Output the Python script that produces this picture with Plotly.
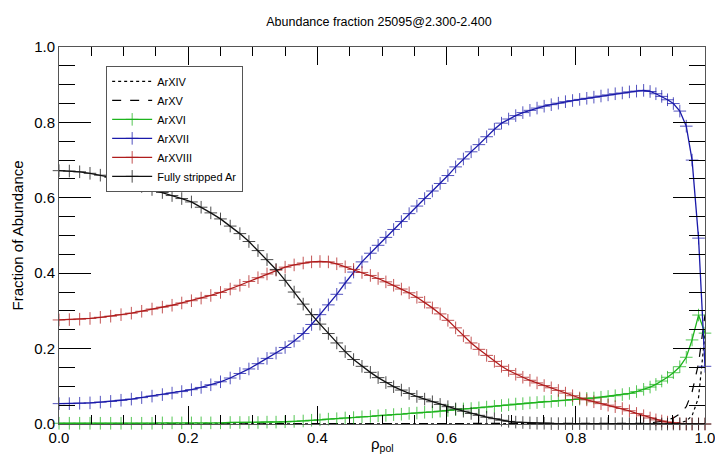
import plotly.graph_objects as go

title_text = "Abundance fraction 25095@2.300-2.400"
x_title = "ρ<sub>pol</sub>"
y_title = "Fraction of Abundance"

rho = [0.000, 0.016, 0.032, 0.048, 0.064, 0.080, 0.096, 0.112, 0.128, 0.144,
       0.160, 0.175, 0.190, 0.205, 0.220, 0.235, 0.250, 0.265, 0.280, 0.294,
       0.308, 0.322, 0.336, 0.350, 0.364, 0.378, 0.391, 0.404, 0.417, 0.430,
       0.443, 0.456, 0.469, 0.482, 0.494, 0.506, 0.518, 0.530, 0.542, 0.554,
       0.566, 0.578, 0.590, 0.602, 0.614, 0.626, 0.638, 0.650, 0.662, 0.674,
       0.685, 0.696, 0.707, 0.718, 0.729, 0.740, 0.751, 0.762, 0.773, 0.784,
       0.795, 0.806, 0.817, 0.828, 0.839, 0.850, 0.861, 0.872, 0.883, 0.894,
       0.905, 0.915, 0.924, 0.933, 0.942, 0.951, 0.961, 0.971, 0.980, 0.990,
       1.000]

ar14 = [0.000, 0.000, 0.000, 0.000, 0.000, 0.000, 0.000, 0.000, 0.000, 0.000,
        0.000, 0.000, 0.000, 0.000, 0.000, 0.000, 0.000, 0.000, 0.000, 0.000,
        0.000, 0.000, 0.000, 0.000, 0.000, 0.000, 0.000, 0.000, 0.000, 0.000,
        0.000, 0.000, 0.000, 0.000, 0.000, 0.000, 0.000, 0.000, 0.000, 0.000,
        0.000, 0.000, 0.000, 0.000, 0.000, 0.000, 0.000, 0.000, 0.000, 0.000,
        0.000, 0.000, 0.000, 0.000, 0.000, 0.000, 0.000, 0.000, 0.000, 0.000,
        0.000, 0.000, 0.000, 0.000, 0.000, 0.000, 0.000, 0.000, 0.000, 0.000,
        0.000, 0.000, 0.000, 0.000, 0.000, 0.001, 0.003, 0.008, 0.022, 0.070,
        0.240]

ar15 = [0.000, 0.000, 0.000, 0.000, 0.000, 0.000, 0.000, 0.000, 0.000, 0.000,
        0.000, 0.000, 0.000, 0.000, 0.000, 0.000, 0.000, 0.000, 0.000, 0.000,
        0.000, 0.000, 0.000, 0.000, 0.000, 0.000, 0.000, 0.000, 0.000, 0.000,
        0.000, 0.000, 0.000, 0.000, 0.000, 0.000, 0.000, 0.000, 0.000, 0.000,
        0.000, 0.000, 0.000, 0.000, 0.000, 0.000, 0.000, 0.000, 0.000, 0.000,
        0.000, 0.000, 0.000, 0.000, 0.000, 0.000, 0.000, 0.000, 0.000, 0.000,
        0.000, 0.000, 0.000, 0.000, 0.000, 0.000, 0.000, 0.000, 0.001, 0.001,
        0.002, 0.003, 0.005, 0.007, 0.011, 0.016, 0.027, 0.046, 0.085, 0.160,
        0.290]

ar16 = [0.002, 0.002, 0.002, 0.002, 0.002, 0.002, 0.002, 0.002, 0.002, 0.002,
        0.003, 0.003, 0.003, 0.003, 0.003, 0.003, 0.003, 0.004, 0.004, 0.004,
        0.004, 0.005, 0.005, 0.006, 0.007, 0.008, 0.010, 0.011, 0.013, 0.014,
        0.016, 0.017, 0.019, 0.020, 0.022, 0.023, 0.025, 0.026, 0.028, 0.029,
        0.031, 0.032, 0.034, 0.036, 0.038, 0.040, 0.041, 0.043, 0.045, 0.047,
        0.049, 0.051, 0.053, 0.054, 0.056, 0.057, 0.059, 0.060, 0.062, 0.063,
        0.065, 0.066, 0.068, 0.069, 0.071, 0.073, 0.075, 0.078, 0.081, 0.086,
        0.092, 0.098, 0.105, 0.114, 0.124, 0.136, 0.152, 0.177, 0.223, 0.289,
        0.241]

ar17 = [0.054, 0.054, 0.055, 0.056, 0.058, 0.060, 0.063, 0.066, 0.070, 0.074,
        0.078, 0.082, 0.086, 0.091, 0.097, 0.104, 0.112, 0.122, 0.134, 0.146,
        0.160, 0.174, 0.188, 0.203, 0.220, 0.240, 0.264, 0.290, 0.316, 0.344,
        0.374, 0.403, 0.430, 0.453, 0.474, 0.495, 0.516, 0.537, 0.558, 0.578,
        0.598, 0.618, 0.638, 0.659, 0.682, 0.703, 0.722, 0.741, 0.762, 0.782,
        0.798, 0.809, 0.818, 0.826, 0.832, 0.838, 0.843, 0.847, 0.851, 0.855,
        0.858, 0.861, 0.864, 0.867, 0.870, 0.873, 0.876, 0.878, 0.881, 0.883,
        0.885, 0.882, 0.876, 0.869, 0.860, 0.850, 0.830, 0.790, 0.700, 0.493,
        0.153]

ar18 = [0.276, 0.277, 0.278, 0.280, 0.283, 0.286, 0.290, 0.294, 0.299, 0.305,
        0.310, 0.315, 0.321, 0.327, 0.334, 0.341, 0.349, 0.358, 0.368, 0.378,
        0.388, 0.398, 0.408, 0.416, 0.422, 0.427, 0.430, 0.431, 0.430, 0.425,
        0.417, 0.410, 0.402, 0.394, 0.386, 0.377, 0.368, 0.358, 0.348, 0.336,
        0.323, 0.308, 0.292, 0.275, 0.255, 0.234, 0.215, 0.198, 0.182, 0.166,
        0.153, 0.142, 0.132, 0.124, 0.116, 0.109, 0.102, 0.096, 0.089, 0.082,
        0.075, 0.069, 0.064, 0.059, 0.054, 0.050, 0.046, 0.041, 0.035, 0.028,
        0.022, 0.016, 0.011, 0.008, 0.005, 0.003, 0.001, 0.000, 0.000, 0.000,
        0.000]

ar_full = [0.672, 0.671, 0.669, 0.665, 0.660, 0.654, 0.647, 0.639, 0.630, 0.622,
           0.614, 0.606, 0.598, 0.589, 0.575, 0.560, 0.544, 0.525, 0.505, 0.484,
           0.460, 0.436, 0.410, 0.381, 0.350, 0.318, 0.290, 0.265, 0.240, 0.215,
           0.192, 0.171, 0.153, 0.137, 0.123, 0.110, 0.099, 0.090, 0.081, 0.073,
           0.066, 0.059, 0.052, 0.046, 0.040, 0.034, 0.028, 0.023, 0.018, 0.014,
           0.010, 0.007, 0.005, 0.004, 0.003, 0.002, 0.002, 0.001, 0.001, 0.001,
           0.001, 0.001, 0.001, 0.001, 0.001, 0.001, 0.001, 0.001, 0.001, 0.001,
           0.001, 0.000, 0.000, 0.000, 0.000, 0.000, 0.000, 0.000, 0.000, 0.000,
           0.000]

FONT = "Liberation Sans, Arial, Helvetica, sans-serif"

fig = go.Figure()

fig.add_trace(go.Scatter(x=rho, y=ar14, name="ArXIV", mode="lines",
                         line=dict(color="black", width=1.2, dash="dot"),
                         cliponaxis=False))
fig.add_trace(go.Scatter(x=rho, y=ar15, name="ArXV", mode="lines",
                         line=dict(color="black", width=1.2, dash="dash"),
                         cliponaxis=False))

marked = [
    ("ArXVI", ar16, "#1db41d"),
    ("ArXVII", ar17, "#1a1aaa"),
    ("ArXVIII", ar18, "#b01c1c"),
    ("Fully stripped Ar", ar_full, "#111111"),
]
for name, vals, col in marked:
    fig.add_trace(go.Scatter(
        x=rho, y=vals, name=name, mode="lines+markers",
        line=dict(color=col, width=1.3),
        marker=dict(symbol="cross-thin", size=9, opacity=0.75,
                    line=dict(color=col, width=1)),
        cliponaxis=False))

axis_common = dict(
    range=[0, 1], showgrid=False, zeroline=False, automargin=False,
    showline=True, linecolor="#555555", linewidth=1, mirror="allticks",
    ticks="inside", tickcolor="black", tickwidth=1,
    tickfont=dict(family=FONT, size=15, color="black"),
    tickformat=".1f", ticklabeloverflow="allow",
)

fig.update_xaxes(**axis_common, dtick=0.2, ticklen=18,
                 minor=dict(dtick=0.05, ticks="inside", ticklen=9,
                            tickcolor="black", tickwidth=1))
fig.update_yaxes(**axis_common, dtick=0.2, ticklen=32,
                 minor=dict(dtick=0.05, ticks="inside", ticklen=16,
                            tickcolor="black", tickwidth=1))

fig.add_annotation(text=x_title, xref="paper", yref="paper",
                   x=0.5, y=-0.055, xanchor="center", yanchor="middle",
                   showarrow=False, font=dict(family=FONT, size=15, color="black"))
fig.add_annotation(text=y_title, xref="paper", yref="paper",
                   x=-0.065, y=0.5, xanchor="center", yanchor="middle",
                   textangle=-90, showarrow=False,
                   font=dict(family=FONT, size=15, color="black"))

fig.update_layout(
    width=715, height=458,
    margin=dict(l=59, r=10, t=47, b=34, autoexpand=False),
    paper_bgcolor="white", plot_bgcolor="white",
    font=dict(family=FONT, color="black"),
    title=dict(text=title_text, x=0.53, xanchor="center", y=1 - 22 / 458,
               yanchor="middle", font=dict(family=FONT, size=12.5, color="black")),
    showlegend=True,
    legend=dict(x=0.073, y=0.95, xanchor="left", yanchor="top",
                bordercolor="#555555", borderwidth=1, bgcolor="white",
                font=dict(family=FONT, size=11, color="black"),
                tracegroupgap=0, itemwidth=40),
)

fig.write_html("out.html")
